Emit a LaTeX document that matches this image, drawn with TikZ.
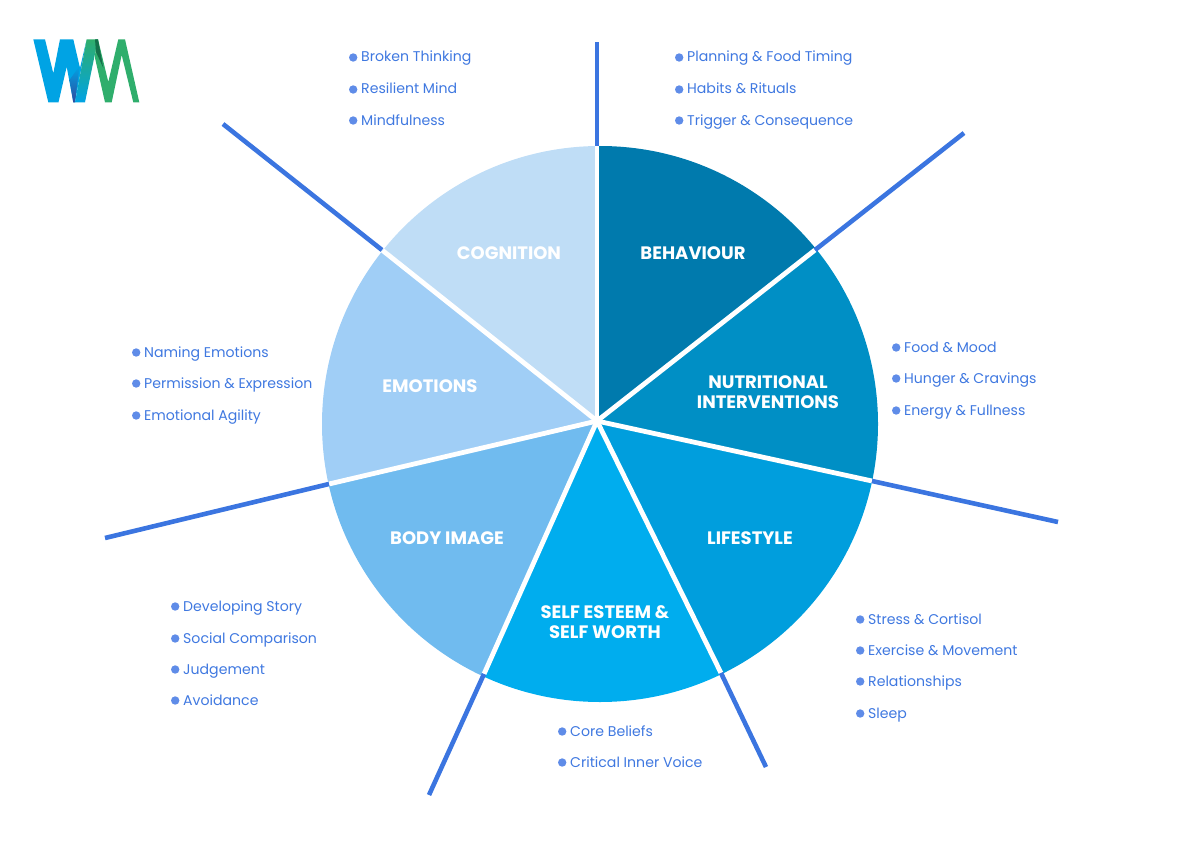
\documentclass[tikz,border=0pt]{standalone}
\usepackage{fontspec}
\setmainfont{Poppins}
\usetikzlibrary{calc}
\definecolor{linec}{HTML}{3B75E0}
\definecolor{textc}{HTML}{3F78E0}
\definecolor{dotc}{HTML}{5F8CE8}
\definecolor{secA}{HTML}{007AAD}
\definecolor{secB}{HTML}{008FC5}
\definecolor{secC}{HTML}{009EDD}
\definecolor{secD}{HTML}{00ADEE}
\definecolor{secE}{HTML}{70BBEF}
\definecolor{secF}{HTML}{A0CEF6}
\definecolor{secG}{HTML}{BFDDF6}
\definecolor{logoB}{HTML}{00A3E4}
\definecolor{logoG}{HTML}{2FAE6C}
\definecolor{logoD}{HTML}{2F4A9E}
\definecolor{logoK}{HTML}{14704A}
\tikzset{
  spoke/.style={draw=linec,line width=4.6pt},
  gap/.style={draw=white,line width=4.8pt},
  title/.style={text=white,align=center,font=\fontsize{18}{20}\selectfont\bfseries,inner sep=0pt},
  item/.style={text=textc,anchor=west,inner sep=0pt,text height=13pt,text depth=3pt,font=\fontsize{14.1}{16}\selectfont,
    label={[circle,fill=dotc,minimum size=8.4pt,inner sep=0pt,label distance=3.4pt,yshift=-0.5pt]left:{}}},
}
\begin{document}
\begin{tikzpicture}[x=1pt,y=-1pt]
\useasboundingbox (0,0) rectangle (1199,848);
\coordinate (c) at (597,421);
\coordinate (a1) at (597,146); \coordinate (a2) at (815,250); \coordinate (a3) at (872,481);
\coordinate (a4) at (721,673); \coordinate (a5) at (484,674); \coordinate (a6) at (329,484);
\coordinate (a7) at (382,250);
\coordinate (o1) at (597,42); \coordinate (o2) at (964,133); \coordinate (o3) at (1058,522);
\coordinate (o4) at (766,767); \coordinate (o5) at (429,795); \coordinate (o6) at (105,538);
\coordinate (o7) at (223,124);
\begin{scope}
\clip (600,424) circle [radius=278];
\fill[secA] (c) -- (597,100) -- (900,100) -- (a2) -- cycle;
\fill[secB] (c) -- (a2) -- (950,200) -- (950,497) -- (a3) -- cycle;
\fill[secC] (c) -- (a3) -- (950,497) -- (950,750) -- (760,750) -- (a4) -- cycle;
\fill[secD] (c) -- (a4) -- (760,750) -- (450,750) -- (a5) -- cycle;
\fill[secE] (c) -- (a5) -- (450,750) -- (250,750) -- (250,503) -- (a6) -- cycle;
\fill[secF] (c) -- (a6) -- (250,503) -- (250,180) -- (a7) -- cycle;
\fill[secG] (c) -- (a7) -- (300,100) -- (597,100) -- cycle;
\foreach \p in {a1,a2,a3,a4,a5,a6,a7} \draw[gap] (c) -- (\p);
\end{scope}
\foreach \i in {1,...,7} \draw[spoke] (a\i) -- (o\i);
% logo
\fill[logoB] (33.3,39.3) -- (45,39.3) -- (53.3,73.3) -- (60,39.3) -- (73.3,39.3) -- (80,68) -- (86.7,39.3) -- (75,102.3) -- (73.3,102.3) -- (66.7,66.7) -- (58.5,102.3) -- (48.3,102.3) -- cycle;
\shade[top color=logoB,bottom color=logoD] (79.5,66) -- (75,102.3) -- (73.3,102.3) -- (69.5,80) -- cycle;
\shade[top color=logoG,bottom color=logoB] (75,102.3) -- (86.7,39.3) -- (98,39.3) -- (85,102.3) -- cycle;
\fill[logoG] (96,39.3) -- (98,39.3) -- (108.3,82) -- (118.3,39.3) -- (125,39.3) -- (139.3,102.3) -- (133.3,102.3) -- (121.7,55) -- (111.7,102.3) -- (105,102.3) -- (95,58) -- cycle;
\fill[logoK] (95,39.3) -- (98,39.3) -- (103.3,68) -- (96,52) -- cycle;
% titles
\node[title] (tA) at (693,253) {BEHAVIOUR};
\node[title] (tB) at (768,392) {NUTRITIONAL\\INTERVENTIONS};
\node[title] (tC) at (750,538) {LIFESTYLE};
\node[title] (tD) at (605,622) {SELF ESTEEM \&\\SELF WORTH};
\node[title] (tE) at (447,538) {BODY IMAGE};
\node[title] (tF) at (430,386) {EMOTIONS};
\node[title] (tG) at (509,253) {COGNITION};
% lists
\node[item] (b1) at (361,57) {Broken Thinking};
\node[item] (b2) at (361,89) {Resilient Mind};
\node[item] (b3) at (361,120) {Mindfulness};
\node[item] (p1) at (687,57) {Planning \& Food Timing};
\node[item] (p2) at (687,89) {Habits \& Rituals};
\node[item] (p3) at (687,120) {Trigger \& Consequence};
\node[item] (f1) at (904,347) {Food \& Mood};
\node[item] (f2) at (904,378) {Hunger \& Cravings};
\node[item] (f3) at (904,410) {Energy \& Fullness};
\node[item] (n1) at (144,352) {Naming Emotions};
\node[item] (n2) at (144,383) {Permission \& Expression};
\node[item] (n3) at (144,415) {Emotional Agility};
\node[item] (d1) at (183,606) {Developing Story};
\node[item] (d2) at (183,638) {Social Comparison};
\node[item] (d3) at (183,669) {Judgement};
\node[item] (d4) at (183,700) {Avoidance};
\node[item] (s1) at (868,619) {Stress \& Cortisol};
\node[item] (s2) at (868,650) {Exercise \& Movement};
\node[item] (s3) at (868,681) {Relationships};
\node[item] (s4) at (868,713) {Sleep};
\node[item] (k1) at (570,731) {Core Beliefs};
\node[item] (k2) at (570,762) {Critical Inner Voice};
\end{tikzpicture}
\end{document}
